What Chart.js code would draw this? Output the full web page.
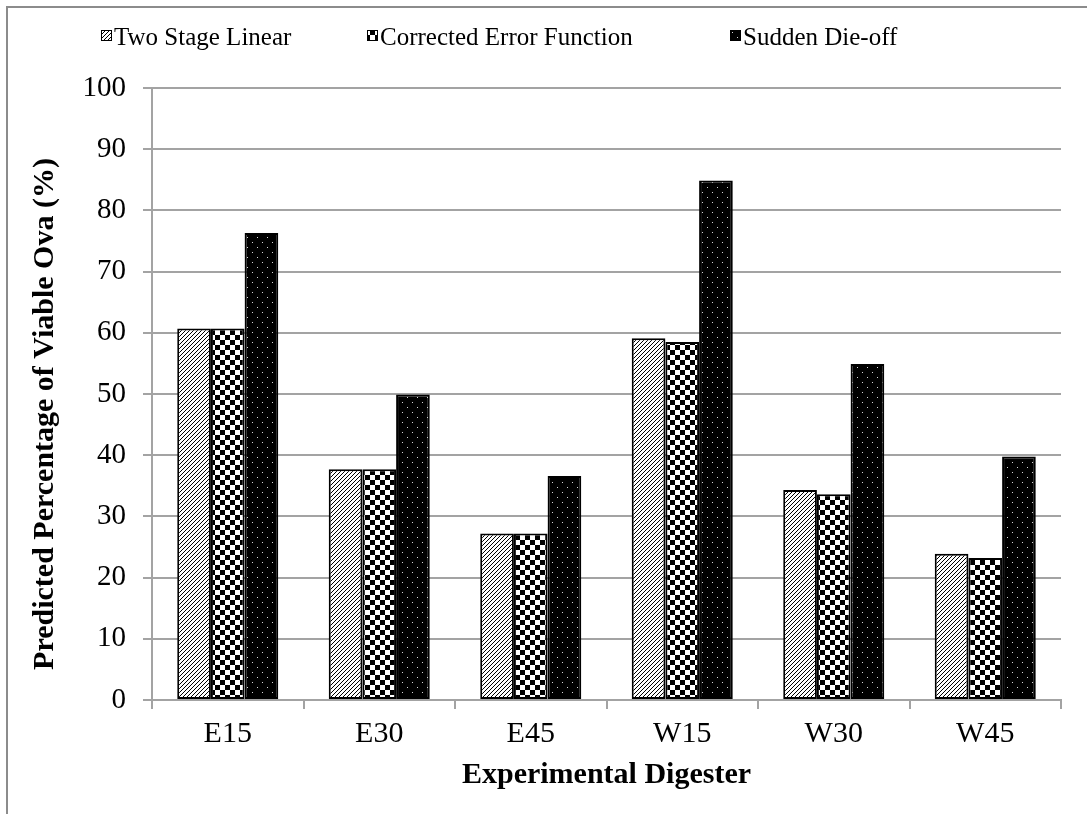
<!DOCTYPE html>
<html><head><meta charset="utf-8">
<script src="https://cdn.jsdelivr.net/npm/chart.js@4"></script>
<style>
html,body{margin:0;padding:0;background:#fff;width:1087px;height:814px;overflow:hidden;}
#wrap{position:relative;width:1087px;height:814px;}
#frame{position:absolute;left:6px;top:6px;width:1100px;height:830px;border-top:2px solid #8c8c8c;border-left:2px solid #8c8c8c;pointer-events:none;}
canvas{position:absolute;left:0;top:0;}
</style></head><body>
<div id="wrap"><canvas id="c" width="1087" height="814"></canvas><div id="frame"></div></div>
<script>
const categories = ['E15', 'E30', 'E45', 'W15', 'W30', 'W45'];
const twoStageLinear = [60.7, 37.7, 27.2, 59.1, 34.3, 23.9];
const correctedErrorFunction = [60.7, 37.7, 27.2, 58.5, 33.6, 23.2];
const suddenDieOff = [76.3, 49.9, 36.6, 84.9, 54.9, 39.8];
const seriesNames = ['Two Stage Linear', 'Corrected Error Function', 'Sudden Die-off'];
const yTickValues = [0, 10, 20, 30, 40, 50, 60, 70, 80, 90, 100];
const xTitle = 'Experimental Digester';
const yTitle = 'Predicted Percentage of Viable Ova (%)';

const canvas = document.getElementById('c');
const ctx = canvas.getContext('2d');

function tile(w, h, draw) {
  const c = document.createElement('canvas');
  c.width = w; c.height = h;
  draw(c.getContext('2d'));
  return ctx.createPattern(c, 'repeat');
}
const hatchPattern = tile(4, 4, g => {
  g.fillStyle = '#fff'; g.fillRect(0, 0, 4, 4);
  g.strokeStyle = '#000'; g.lineWidth = 1;
  g.beginPath();
  g.moveTo(-1, 5); g.lineTo(5, -1);
  g.moveTo(-1, 1); g.lineTo(1, -1);
  g.moveTo(3, 5); g.lineTo(5, 3);
  g.stroke();
});
const checkerPattern = tile(10, 10, g => {
  g.fillStyle = '#fff'; g.fillRect(0, 0, 10, 10);
  g.fillStyle = '#000'; g.fillRect(0, 0, 5, 5); g.fillRect(5, 5, 5, 5);
});
const dotPattern = tile(10, 10, g => {
  g.fillStyle = '#000'; g.fillRect(0, 0, 10, 10);
  g.fillStyle = '#d8d8d8'; g.fillRect(2, 2, 1, 1); g.fillRect(7, 7, 1, 1);
});
const patterns = [hatchPattern, checkerPattern, dotPattern];
const seriesValues = [twoStageLinear, correctedErrorFunction, suddenDieOff];

const serif = '"Liberation Serif", "Times New Roman", serif';

const legendPlugin = {
  id: 'customLegend',
  afterDraw(chart) {
    const g = chart.ctx;
    const boxX = [101, 367, 730];
    const cy = 36;
    const legendFont = Chart.helpers.toFont({ family: serif, size: 25, style: 'normal', weight: 'normal' }).string;
    g.save();
    chart.data.datasets.forEach((ds, i) => {
      g.fillStyle = ds.backgroundColor;
      g.fillRect(boxX[i], cy - 6, 11, 11);
      g.strokeStyle = '#000'; g.lineWidth = 1;
      g.strokeRect(boxX[i] + 0.5, cy - 5.5, 10, 10);
    });
    g.font = legendFont;
    g.textBaseline = 'middle';
    g.textAlign = 'left';
    g.fillStyle = '#000';
    chart.data.datasets.forEach((ds, i) => {
      g.fillText(ds.label, boxX[i] + 13, cy + 2);
    });
    // y-axis title
    g.translate(45, 414);
    g.rotate(-Math.PI / 2);
    g.textAlign = 'center';
    g.textBaseline = 'middle';
    g.font = Chart.helpers.toFont({ family: serif, size: 30, weight: 'bold' }).string;
    g.fillText(yTitle, 0, 0);
    g.restore();
  }
};

const gridColor = '#a3a3a3';

function build() {
  new Chart(ctx, {
    type: 'bar',
    data: {
      labels: categories,
      datasets: seriesNames.map((name, i) => ({
        label: name,
        data: seriesValues[i],
        backgroundColor: patterns[i],
        borderColor: '#000',
        borderWidth: 2,
        borderSkipped: false,
        categoryPercentage: 0.667,
        barPercentage: 1
      }))
    },
    options: {
      responsive: false,
      animation: false,
      events: [],
      layout: { padding: { top: 88, left: 0, right: 26, bottom: 0 } },
      plugins: { legend: { display: false }, tooltip: { enabled: false } },
      scales: {
        x: {
          grid: { offset: true, drawOnChartArea: false, drawTicks: true, tickLength: 9, color: gridColor, lineWidth: 2 },
          border: { color: gridColor, width: 2 },
          ticks: { color: '#000', font: { family: serif, size: 30 }, padding: 7 },
          title: { display: true, text: xTitle, color: '#000', font: { family: serif, size: 30, weight: 'bold' }, padding: { top: 0, bottom: 21 } },
          afterFit(s) { s.height = 114; }
        },
        y: {
          min: 0, max: 100,
          afterBuildTicks(s) { s.ticks = yTickValues.map(v => ({ value: v })); },
          grid: { color: gridColor, lineWidth: 2, tickLength: 9, drawTicks: true },
          border: { color: gridColor, width: 2 },
          ticks: { color: '#000', font: { family: serif, size: 29 }, padding: 17 },
          title: { display: false, text: yTitle },
          afterFit(s) { s.width = 152; }
        }
      }
    },
    plugins: [legendPlugin]
  });
}

Promise.all([
  document.fonts.load('25px "Liberation Serif"'),
  document.fonts.load('bold 30px "Liberation Serif"')
]).then(build, build);
</script>
</body></html>
